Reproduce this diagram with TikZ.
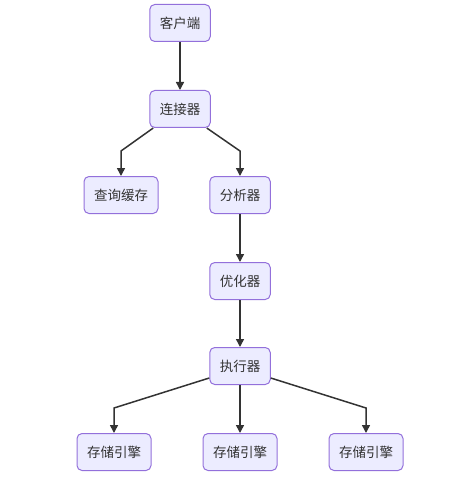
\documentclass[tikz,border=0pt]{standalone}
\usepackage{fontspec}
\usepackage{tikz}
\usetikzlibrary{arrows.meta}
\newfontfamily\cjk{Noto Sans CJK SC}
\definecolor{boxfill}{HTML}{ECECFF}
\definecolor{boxline}{HTML}{9370DB}
\definecolor{edge}{HTML}{333333}

\begin{document}
\begin{tikzpicture}[x=1pt,y=-1pt,
  mbox/.style={draw=boxline,fill=boxfill,line width=1pt,rounded corners=5pt,
    inner xsep=10pt,inner ysep=0pt,minimum height=37pt,
    font=\cjk\fontsize{13.5}{16}\selectfont,text=black!80},
  flow/.style={draw=edge,line width=1.5pt,-{Triangle[length=8pt,width=8pt]}}]
\useasboundingbox (0,0) rectangle (461,481);
\node[mbox] (client) at (180,23) {客户端};
\node[mbox] (conn) at (180,109) {连接器};
\node[mbox] (cache) at (121,195) {查询缓存};
\node[mbox] (parser) at (240,195) {分析器};
\node[mbox] (optim) at (240,281) {优化器};
\node[mbox] (exec) at (240,366) {执行器};
\node[mbox] (engA) at (114,452) {存储引擎};
\node[mbox] (engB) at (240,452) {存储引擎};
\node[mbox] (engC) at (366,452) {存储引擎};
\draw[flow] (client) -- (conn);
\draw[flow] ([xshift=4pt]conn.south west) -- ([yshift=25pt]cache.north) -- (cache.north);
\draw[flow] ([xshift=-4pt]conn.south east) -- ([yshift=25pt]parser.north) -- (parser.north);
\draw[flow] (parser) -- (optim);
\draw[flow] (optim) -- (exec);
\draw[flow] ([yshift=-12pt]exec.west) -- ([yshift=25pt]engA.north) -- (engA.north);
\draw[flow] (exec) -- (engB);
\draw[flow] ([yshift=-12pt]exec.east) -- ([yshift=25pt]engC.north) -- (engC.north);
\end{tikzpicture}
\end{document}
